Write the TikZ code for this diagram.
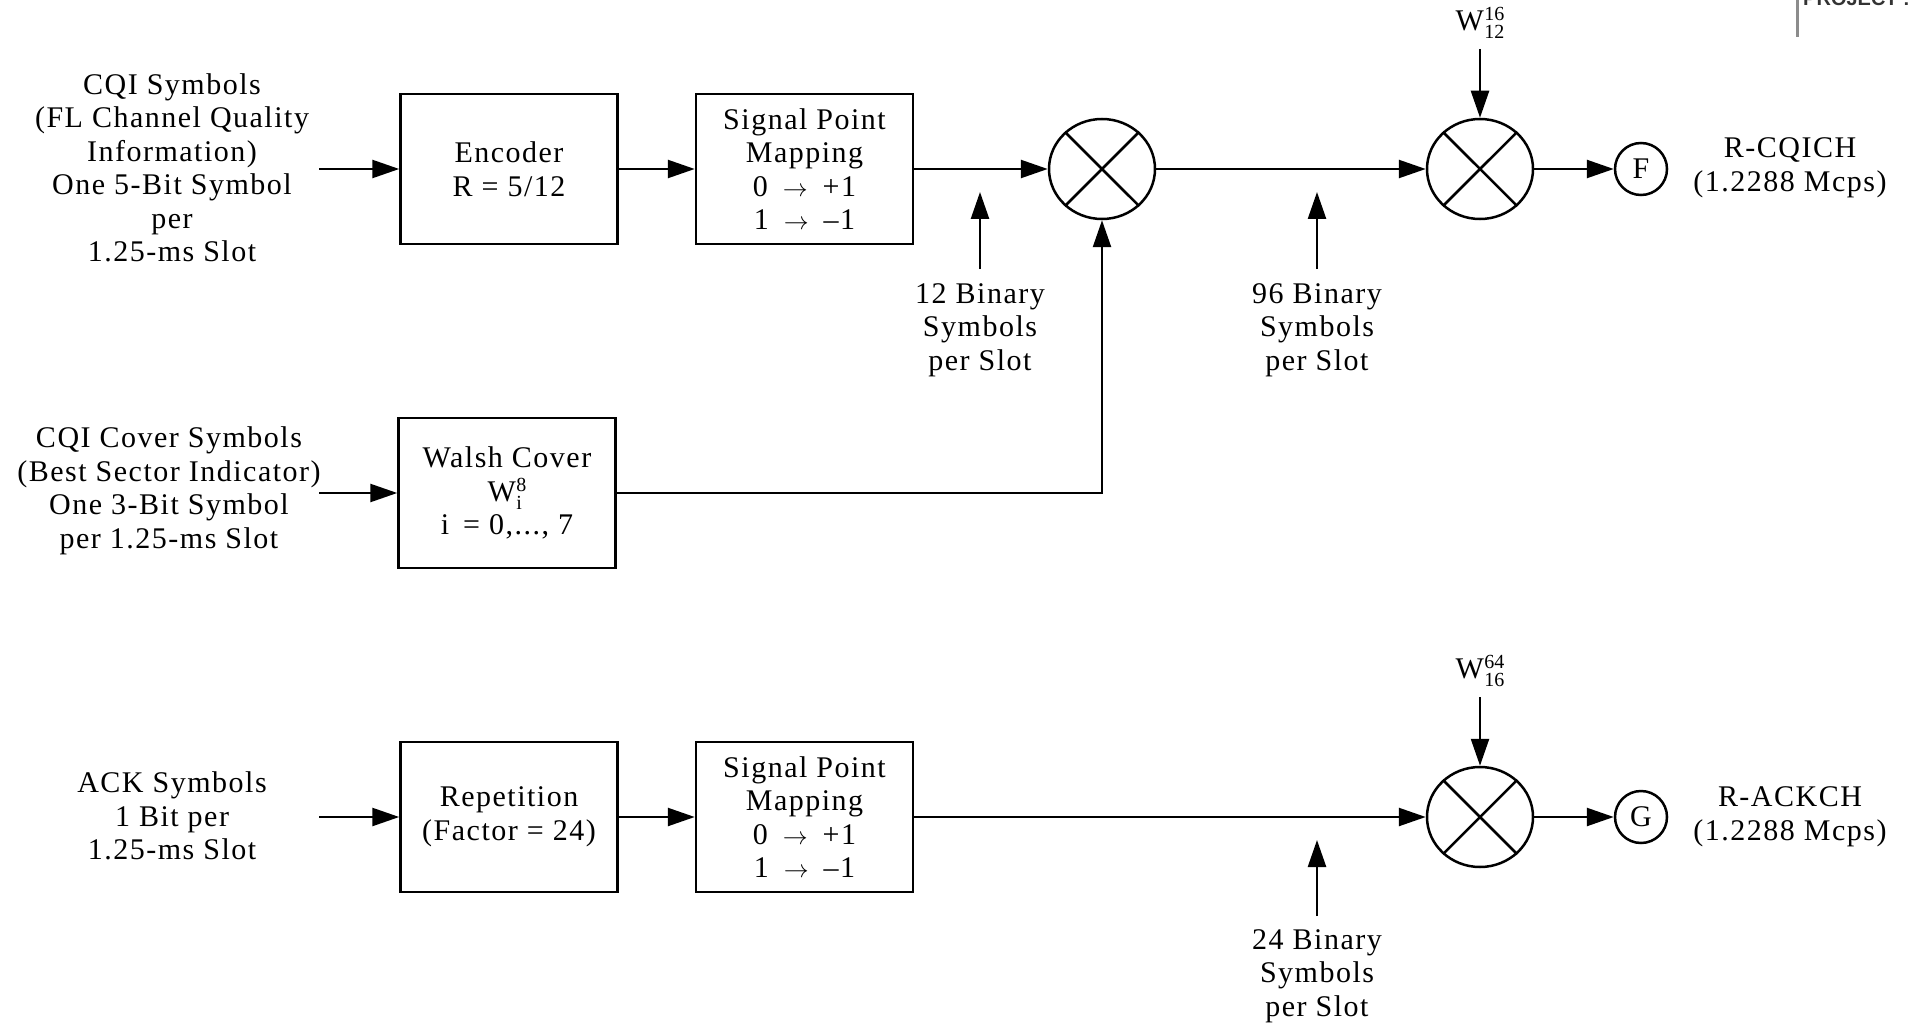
\documentclass[tikz,border=0pt]{standalone}
\usepackage{fontspec}
\setmainfont{Liberation Serif}[LetterSpace=5]
\newfontfamily\projfont{Liberation Sans}
\usetikzlibrary{arrows.meta,shapes.geometric}
\newcommand{\rarr}{\enspace$\rightarrow$\enspace}
\newcommand{\wcode}[2]{W\kern0.5pt{\fontsize{20}{14}\selectfont\addfontfeature{LetterSpace=0}\begin{tabular}[c]{@{}l@{}}#1\\#2\end{tabular}}}
\begin{document}
\begin{tikzpicture}[x=1pt,y=-1pt,
  lw/.style={line width=2.5pt},
  txt/.style={align=center,inner sep=0pt,font=\fontsize{30}{33.5}\selectfont},
  blk/.style={draw,lw,minimum width=217pt,minimum height=150pt,align=center,inner sep=0pt,font=\fontsize{30}{33.5}\selectfont},
  mult/.style={draw,lw,ellipse,minimum width=106pt,minimum height=100pt,inner sep=0pt},
  term/.style={draw,lw,circle,minimum size=52pt,inner sep=0pt,font=\fontsize{30}{33.5}\selectfont},
  arr/.style={lw,-{Triangle[length=27pt,width=18pt]}},
  ln/.style={lw}]
\useasboundingbox (0,0) rectangle (1909,1027);

% ---------- CQI branch ----------
\node[txt] (cqi) at (172,168) {CQI Symbols\\(FL Channel Quality\\Information)\\One 5-Bit Symbol\\per\\1.25-ms Slot};
\coordinate (in1) at (319,169);
\node[blk] (enc) at (509,169) {Encoder\\R = 5/12};
\node[blk] (spm1) at (804.5,169) {Signal Point\\Mapping\\0\rarr+1\\1\rarr–1};
\node[mult] (m1) at (1102,169) {};
\draw[ln] (m1.45) -- (m1.225) (m1.135) -- (m1.315);
\node[mult] (m2) at (1480,169) {};
\draw[ln] (m2.45) -- (m2.225) (m2.135) -- (m2.315);
\node[term] (F) at (1641,169) {F};
\node[txt] (rcq) at (1790,168) {R-CQICH\\(1.2288 Mcps)};
\node[txt] (w1) at (1480,25) {\wcode{16}{12}};
\coordinate (w1s) at (1480,49);

\draw[arr] (in1) -- (enc.west);
\draw[arr] (enc) -- (spm1);
\draw[arr] (spm1) -- (m1);
\draw[arr] (m1) -- (m2);
\draw[arr] (m2) -- (F);
\draw[arr] (w1s) -- (m2.north);

\coordinate (a12b) at (980,269);
\coordinate (a12t) at (980,192);
\draw[arr] (a12b) -- (a12t);
\node[txt] (t12) at (980,330) {12 Binary\\Symbols\\per Slot};

\coordinate (a96b) at (1317,269);
\coordinate (a96t) at (1317,192);
\draw[arr] (a96b) -- (a96t);
\node[txt] (t96) at (1317,330) {96 Binary\\Symbols\\per Slot};

% ---------- CQI cover branch ----------
\node[txt] (cov) at (169,491) {CQI Cover Symbols\\(Best Sector Indicator)\\One 3-Bit Symbol\\per 1.25-ms Slot};
\coordinate (in2) at (319,493);
\node[blk] (wal) at (507,493) {Walsh Cover\\\wcode{8}{i}\\i\, = 0,..., 7};
\draw[arr] (in2) -- (wal.west);
\draw[arr] (wal.east) -| (m1.south);

% ---------- ACK branch ----------
\node[txt] (ack) at (172,816) {ACK Symbols\\1 Bit per\\1.25-ms Slot};
\coordinate (in3) at (319,817);
\node[blk] (rep) at (509,817) {Repetition\\(Factor = 24)};
\node[blk] (spm2) at (804.5,817) {Signal Point\\Mapping\\0\rarr+1\\1\rarr–1};
\node[mult] (m3) at (1480,817) {};
\draw[ln] (m3.45) -- (m3.225) (m3.135) -- (m3.315);
\node[term] (G) at (1641,817) {G};
\node[txt] (rack) at (1790,817) {R-ACKCH\\(1.2288 Mcps)};
\node[txt] (w3) at (1480,673) {\wcode{64}{16}};
\coordinate (w3s) at (1480,697);

\draw[arr] (in3) -- (rep.west);
\draw[arr] (rep) -- (spm2);
\draw[arr] (spm2) -- (m3);
\draw[arr] (m3) -- (G);
\draw[arr] (w3s) -- (m3.north);

\coordinate (a24b) at (1317,916);
\coordinate (a24t) at (1317,840);
\draw[arr] (a24b) -- (a24t);
\node[txt] (t24) at (1317,976) {24 Binary\\Symbols\\per Slot};

% ---------- cropped corner fragment ----------
\coordinate (gl1) at (1797,0);
\coordinate (gl2) at (1797,37);
\draw[line width=3pt,black!45] (gl1) -- (gl2);
\node[anchor=base west,inner sep=0pt,text=black!80,font=\projfont\bfseries\fontsize{20}{20}\selectfont] (proj) at (1803,6) {PROJECT :};
\end{tikzpicture}
\end{document}
